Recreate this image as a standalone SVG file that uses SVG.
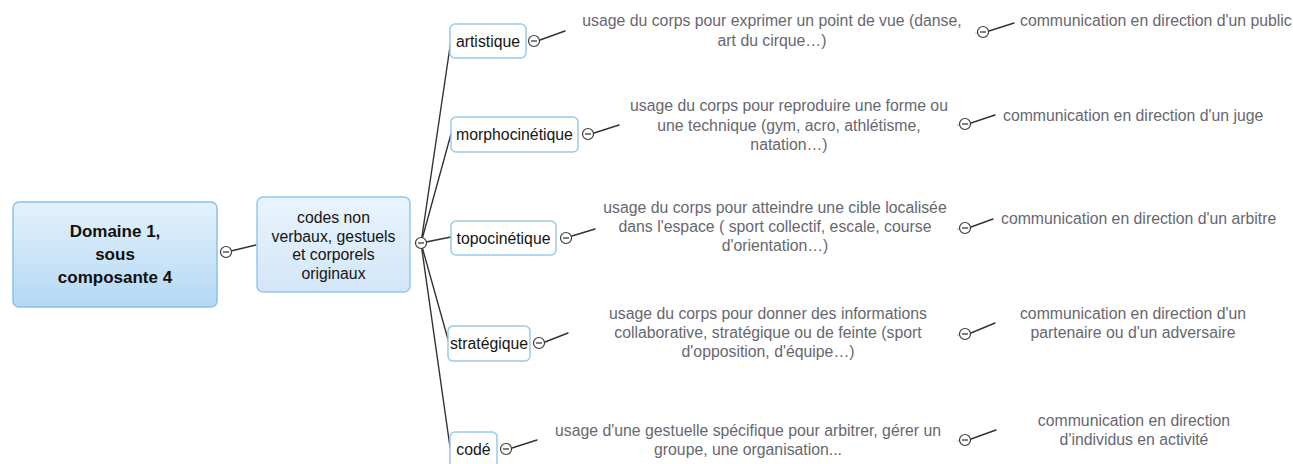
<svg xmlns="http://www.w3.org/2000/svg" width="1293" height="464" viewBox="0 0 1293 464">
  <defs>
    <linearGradient id="rootFill" x1="0" y1="0" x2="0" y2="1">
      <stop offset="0" stop-color="#e4f2fc"/>
      <stop offset="1" stop-color="#b4d8f3"/>
    </linearGradient>
    <linearGradient id="subFill" x1="0" y1="0" x2="0" y2="1">
      <stop offset="0" stop-color="#e9f4fd"/>
      <stop offset="1" stop-color="#d2e6f8"/>
    </linearGradient>
    <!-- collapse toggle: small circle with a minus sign -->
    <g id="toggle">
      <circle cx="0" cy="0" r="5.5" fill="#ffffff" stroke="#3a3a3a" stroke-width="1.2"/>
      <line x1="-3" y1="0" x2="3" y2="0" stroke="#3a3a3a" stroke-width="1.3"/>
    </g>
  </defs>
  <style>
    .edge { fill: none; stroke: #333333; stroke-width: 1.4; stroke-linecap: round; }
    .stub { fill: none; stroke: #bbbbbb; stroke-width: 1; }
    .box1 { fill: #ffffff; stroke: #99c9ec; stroke-width: 1.5; }
    .root { fill: url(#rootFill); stroke: #8fc0e6; stroke-width: 1.5; }
    .sub { fill: url(#subFill); stroke: #98c6ea; stroke-width: 1.5; }
    text { font-family: "Liberation Sans", Arial, Helvetica, sans-serif; font-size: 15.8px; }
    .dark { fill: #151515; }
    .bold { font-weight: bold; font-size: 17px; fill: #111111; }
    .grey { fill: #67676f; }
    .mid { text-anchor: middle; }
  </style>

  <rect width="1293" height="464" fill="#ffffff"/>

  <!-- connectors -->
  <g id="connectors">
    <!-- root to sub-topic -->
    <line class="edge" x1="231" y1="251" x2="256" y2="245"/>
    <!-- hub fan-out -->
    <line class="edge" x1="421" y1="243" x2="451" y2="40"/>
    <line class="edge" x1="421" y1="243" x2="451" y2="134"/>
    <line class="edge" x1="421" y1="243" x2="451" y2="237"/>
    <line class="edge" x1="421" y1="243" x2="449" y2="343"/>
    <line class="edge" x1="421" y1="243" x2="450" y2="447"/>
    <!-- level 1 to descriptions -->
    <line class="edge" x1="540" y1="40" x2="565" y2="31"/>
    <line class="edge" x1="594" y1="133" x2="619" y2="125"/>
    <line class="edge" x1="572" y1="236" x2="595" y2="229"/>
    <line class="edge" x1="545" y1="342" x2="568" y2="333"/>
    <line class="edge" x1="512" y1="448" x2="537" y2="440"/>
    <!-- descriptions to targets -->
    <line class="stub" x1="975" y1="33" x2="978" y2="33"/>
    <line class="edge" x1="989" y1="31" x2="1014" y2="23"/>
    <line class="stub" x1="957" y1="125" x2="960" y2="125"/>
    <line class="edge" x1="971" y1="123" x2="995" y2="115"/>
    <line class="stub" x1="957" y1="229" x2="960" y2="229"/>
    <line class="edge" x1="971" y1="227" x2="993" y2="219"/>
    <line class="stub" x1="957" y1="335" x2="960" y2="335"/>
    <line class="edge" x1="971" y1="333" x2="995" y2="323"/>
    <line class="stub" x1="957" y1="441" x2="960" y2="441"/>
    <line class="edge" x1="971" y1="439" x2="996" y2="430"/>
  </g>

  <!-- root -->
  <g id="node-root">
    <rect class="root" x="13" y="202" width="204" height="105" rx="6"/>
    <text class="bold mid" x="115" y="237">Domaine 1,</text>
    <text class="bold mid" x="115" y="260">sous</text>
    <text class="bold mid" x="115" y="283">composante 4</text>
    <use href="#toggle" x="226" y="252"/>
  </g>

  <g id="node-codes">
    <rect class="sub" x="257" y="197" width="153" height="95" rx="6"/>
    <text class="dark mid" x="333.5" y="223">codes non</text>
    <text class="dark mid" x="333.5" y="241.5">verbaux, gestuels</text>
    <text class="dark mid" x="333.5" y="260">et corporels</text>
    <text class="dark mid" x="333.5" y="278.5">originaux</text>
    <use href="#toggle" x="421" y="243"/>
  </g>

  <!-- level 1 -->
  <g id="node-artistique">
    <rect class="box1" x="450" y="24" width="76" height="34" rx="5"/>
    <text class="dark mid" x="488" y="46.5">artistique</text>
    <use href="#toggle" x="534" y="41"/>
  </g>
  <g id="node-morphocinetique">
    <rect class="box1" x="451" y="117" width="127" height="35" rx="5"/>
    <text class="dark mid" x="514.5" y="140">morphocinétique</text>
    <use href="#toggle" x="588" y="134"/>
  </g>
  <g id="node-topocinetique">
    <rect class="box1" x="451" y="221" width="105" height="34" rx="5"/>
    <text class="dark mid" x="503.5" y="243.5">topocinétique</text>
    <use href="#toggle" x="566" y="238"/>
  </g>
  <g id="node-strategique">
    <rect class="box1" x="448" y="326" width="82" height="35" rx="5"/>
    <text class="dark mid" x="489" y="349">stratégique</text>
    <use href="#toggle" x="539" y="343"/>
  </g>
  <g id="node-code">
    <rect class="box1" x="450" y="432" width="47" height="36" rx="5"/>
    <text class="dark mid" x="473.5" y="455">codé</text>
    <use href="#toggle" x="506" y="449"/>
  </g>

  <!-- level 2: descriptions -->
  <g id="desc-artistique">
    <text class="grey mid" x="772" y="26">usage du corps pour exprimer un point de vue (danse,</text>
    <text class="grey mid" x="772" y="46">art du cirque…)</text>
    <use href="#toggle" x="983" y="32"/>
  </g>
  <g id="desc-morphocinetique">
    <text class="grey mid" x="789" y="111">usage du corps pour reproduire une forme ou</text>
    <text class="grey mid" x="789" y="130.5">une technique (gym, acro, athlétisme,</text>
    <text class="grey mid" x="789" y="150">natation…)</text>
    <use href="#toggle" x="965" y="124"/>
  </g>
  <g id="desc-topocinetique">
    <text class="grey mid" x="775" y="213">usage du corps pour atteindre une cible localisée</text>
    <text class="grey mid" x="775" y="232">dans l'espace ( sport collectif, escale, course</text>
    <text class="grey mid" x="775" y="251">d'orientation…)</text>
    <use href="#toggle" x="965" y="228"/>
  </g>
  <g id="desc-strategique">
    <text class="grey mid" x="768" y="319">usage du corps pour donner des informations</text>
    <text class="grey mid" x="768" y="338">collaborative, stratégique ou de feinte (sport</text>
    <text class="grey mid" x="768" y="357">d'opposition, d'équipe…)</text>
    <use href="#toggle" x="965" y="334"/>
  </g>
  <g id="desc-code">
    <text class="grey mid" x="748" y="436">usage d'une gestuelle spécifique pour arbitrer, gérer un</text>
    <text class="grey mid" x="748" y="455">groupe, une organisation...</text>
    <use href="#toggle" x="965" y="440"/>
  </g>

  <!-- level 3: audiences -->
  <g id="target-public">
    <text class="grey" x="1020" y="25.5">communication en direction d'un public</text>
  </g>
  <g id="target-juge">
    <text class="grey" x="1003" y="120.5">communication en direction d'un juge</text>
  </g>
  <g id="target-arbitre">
    <text class="grey" x="1001" y="223.5">communication en direction d'un arbitre</text>
  </g>
  <g id="target-partenaire">
    <text class="grey mid" x="1133" y="319">communication en direction d'un</text>
    <text class="grey mid" x="1133" y="338">partenaire ou d'un adversaire</text>
  </g>
  <g id="target-individus">
    <text class="grey mid" x="1134" y="426">communication en direction</text>
    <text class="grey mid" x="1134" y="445">d'individus en activité</text>
  </g>
</svg>
